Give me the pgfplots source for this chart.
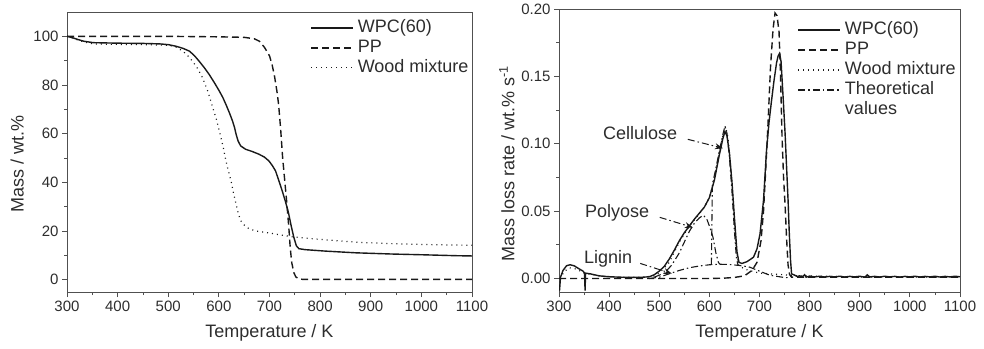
\documentclass[border=0pt]{standalone}
\usepackage{fontspec}
\setmainfont{Liberation Sans}
\usepackage{pgfplots}
\pgfplotsset{compat=1.18}
\usetikzlibrary{arrows.meta}
\definecolor{txt}{RGB}{45,45,45}
\definecolor{axc}{RGB}{80,80,80}
\definecolor{lc}{RGB}{25,25,25}
\tikzset{
  solidl/.style={draw=lc, line width=1.4pt},
  dashl/.style={draw=lc, line width=1.4pt, dash pattern=on 7pt off 4pt},
  dotl/.style={draw=lc, line width=1.2pt, dash pattern=on 1pt off 4pt},
  ddl/.style={draw=lc, line width=1.1pt, dash pattern=on 7pt off 3pt on 1.5pt off 3pt},
}
\pgfplotsset{
  mystyle/.style={
    scale only axis,
    axis line style={draw=axc, line width=0.9pt},
    every tick/.style={draw=axc, line width=0.8pt},
    major tick length=5pt, minor tick length=3pt,
    tick align=outside, xtick pos=bottom, ytick pos=left,
    ticklabel style={font=\fontsize{15}{17}\selectfont, text=txt},
    label style={font=\fontsize{18}{20}\selectfont, text=txt},
    /pgf/number format/assume math mode=true,
    /pgf/number format/1000 sep={},
    xmin=300, xmax=1100, xtick={300,400,...,1100}, minor x tick num=1,
    xlabel={Temperature / K},
    xlabel style={at={(axis description cs:0.5,0)}, anchor=center, yshift=-41pt},
    legend style={draw=none, fill=none, font=\fontsize{18}{20}\selectfont, text=txt,
      nodes={text height=13pt, text depth=4pt, inner sep=1pt},
      row sep=1pt, anchor=north west,
      /tikz/every odd column/.append style={column sep=3pt}},
    legend image code/.code={\draw[#1] (0pt,0pt) -- (42pt,0pt);},
    legend cell align=left,
  },
}
\begin{document}
\begin{tikzpicture}[x=1pt,y=1pt]
\useasboundingbox (0,0) rectangle (984,348);
% ---------------- left panel
\begin{axis}[mystyle, at={(67pt,56pt)}, anchor=south west,
  width=405pt, height=280pt,
  ymin=-5, ymax=110, ytick={0,20,...,100}, minor y tick num=1,
  ylabel={Mass / wt.\%},
  ylabel style={at={(axis description cs:-0.123,0.457)}, anchor=center},
  legend style={at={(0.593,0.985)}},
]
\addplot[solidl] coordinates {(300,100) (310,99.5) (320,98.8) (333,98) (352,97.4) (400,97.2) (450,97.1) (483,96.9) (500,96.6) (516,95.9) (530,95) (542,93.9) (552,92) (561,89.8) (571,87.2) (581,84.3) (591,81) (601,77.5) (608,74.8) (614,72) (621,68.5) (627,65.2) (631,62.5) (634,59.8) (638,57) (643,55) (653,53.6) (666,52.7) (679,51.6) (690,50.4) (699,48.8) (706,46.8) (712,44.7) (718,41) (725,36.6) (731,32.5) (735,29.5) (738,27) (743,22) (748,17.5) (753,14) (758,12.8) (770,12.4) (810,11.8) (870,11.1) (941,10.6) (1000,10.3) (1071,9.9) (1100,9.8)};
\addlegendentry{WPC(60)}
\addplot[dashl] coordinates {(300,100) (400,100) (500,100) (600,99.8) (650,99.6) (670,99) (680,98) (690,95.5) (700,92) (705,88.5) (710,83.5) (715,77) (718,72) (722,62) (726,50) (730,41) (734,32) (738,22) (741,13) (744,7) (748,3) (752,1.2) (758,0.4) (765,0.2) (900,0.2) (1100,0.2)};
\addlegendentry{PP}
\addplot[dotl] coordinates {(300,100) (315,99) (333,97.7) (352,96.9) (400,96.7) (450,96.6) (503,96.3) (515,95.6) (529,93.9) (538,92.2) (548,89.8) (558,86.8) (568,82.9) (578,77.5) (588,70.7) (595,66) (601,61.1) (608,55) (614,48.8) (619,44.5) (624,40.7) (629,35.5) (634,31.1) (638,27.5) (643,24.3) (650,22.5) (660,20.9) (675,20) (692,19.5) (720,18.5) (744,17.7) (800,16.6) (875,15.4) (950,14.8) (1030,14.4) (1100,14.2)};
\addlegendentry{Wood mixture}
\end{axis}
% ---------------- right panel
\begin{axis}[mystyle, at={(559pt,56pt)}, anchor=south west,
  width=401pt, height=283pt,
  ymin=-0.01, ymax=0.2, ytick={0,0.05,...,0.2}, minor y tick num=1,
  yticklabel style={/pgf/number format/.cd, fixed, fixed zerofill, precision=2},
  scaled y ticks=false,
  ylabel={Mass loss rate / wt.\% s\textsuperscript{-1}},
  ylabel style={at={(axis description cs:-0.13,0.452)}, anchor=center},
  legend style={at={(0.587,0.967)}},
  clip=true,
]
\addplot[solidl] coordinates {(301,-0.009) (303,0.001) (308,0.006) (315,0.0095) (322,0.0102) (330,0.0095) (340,0.0072) (348,0.0055) (351,0.004) (352,-0.009) (353,0.004) (362,0.0035) (380,0.002) (400,0.0013) (430,0.0009) (460,0.0008) (480,0.0013) (490,0.0028) (500,0.0055) (510,0.009) (520,0.0145) (530,0.021) (540,0.028) (550,0.034) (560,0.039) (570,0.044) (580,0.0485) (590,0.053) (600,0.06) (610,0.073) (620,0.092) (627,0.104) (631,0.109) (635,0.106) (640,0.093) (645,0.072) (650,0.045) (655,0.02) (659,0.012) (665,0.0112) (675,0.0125) (688,0.0158) (695,0.022) (701,0.033) (708,0.058) (714,0.095) (719,0.116) (724,0.132) (729,0.147) (734,0.16) (737,0.165) (740,0.167) (743,0.161) (747.5,0.132) (751,0.108) (754,0.083) (757,0.058) (759.5,0.033) (762,0.013) (764,0.0035) (770,0.0025) (775,0.0015) (780,0.002) (785,0.0012) (790,0.0028) (793,0.001) (800,0.0018) (810,0.0012) (820,0.0017) (830,0.0011) (840,0.0016) (850,0.0012) (860,0.0017) (870,0.0011) (880,0.0016) (890,0.0012) (900,0.0017) (910,0.001) (915,0.0027) (920,0.0012) (930,0.0016) (940,0.0011) (950,0.0017) (960,0.0012) (970,0.0016) (980,0.001) (990,0.0016) (1000,0.0012) (1010,0.0017) (1020,0.0011) (1030,0.0016) (1040,0.0012) (1050,0.0017) (1060,0.0011) (1070,0.0016) (1080,0.0012) (1090,0.0017) (1100,0.0013)};
\addlegendentry{WPC(60)}
\addplot[dashl] coordinates {(300,0) (400,0) (500,0) (600,0) (630,0.0003) (650,0.0008) (670,0.002) (685,0.006) (695,0.012) (703,0.028) (708,0.05) (713,0.085) (717,0.115) (722,0.157) (727,0.185) (731,0.197) (735,0.195) (739,0.183) (742,0.15) (745,0.105) (748,0.075) (751,0.055) (754,0.03) (757,0.01) (760,0.003) (764,0.001) (800,0.001) (1100,0.001)};
\addlegendentry{PP}
\addplot[dotl] coordinates {(302,0) (310,0.005) (320,0.008) (335,0.007) (350,0.004) (380,0.002) (420,0.001) (470,0.001) (490,0.002) (500,0.004) (520,0.012) (540,0.027) (560,0.039) (580,0.048) (590,0.053) (600,0.06) (610,0.074) (620,0.094) (628,0.108) (632,0.113) (637,0.105) (642,0.085) (648,0.055) (653,0.025) (658,0.01) (670,0.007) (700,0.004) (740,0.003) (780,0.002) (900,0.0012) (1100,0.001)};
\addlegendentry{Wood mixture}
\addplot[ddl] coordinates {(480,0) (500,0.001) (520,0.0035) (540,0.006) (560,0.008) (580,0.0093) (600,0.0102) (620,0.0106) (640,0.0104) (660,0.0097) (680,0.0085) (700,0.0055) (720,0.0025) (745,0.001) (760,0.0005)};
\addlegendentry{Theoretical}
\addlegendimage{empty legend}
\addlegendentry{values}
\addplot[ddl, forget plot] coordinates {(490,0.001) (510,0.004) (525,0.01) (540,0.019) (550,0.027) (560,0.035) (570,0.041) (580,0.045) (588,0.047) (595,0.044) (600,0.039) (607,0.031) (613,0.019) (618,0.012) (621,0.0105)};
\addplot[ddl, forget plot] coordinates {(604,0.0103) (605,0.04) (606,0.07) (612,0.08) (620,0.095) (627,0.107) (631,0.113) (635,0.108) (640,0.09) (645,0.065) (650,0.035) (654,0.015) (657,0.01)};
% annotations
\node[font=\fontsize{18}{20}\selectfont, text=txt] at (axis cs:462,0.108) {Cellulose};
\node[font=\fontsize{18}{20}\selectfont, text=txt] at (axis cs:416,0.049) {Polyose};
\node[font=\fontsize{18}{20}\selectfont, text=txt] at (axis cs:398,0.0149) {Lignin};
\draw[ddl, line width=1pt, -{Stealth[length=8pt,width=6pt]}] (axis cs:557,0.1033) -- (axis cs:627,0.0967);
\draw[ddl, line width=1pt, -{Stealth[length=8pt,width=6pt]}] (axis cs:501,0.0454) -- (axis cs:567,0.0379);
\draw[ddl, line width=1pt, -{Stealth[length=8pt,width=6pt]}] (axis cs:462,0.0112) -- (axis cs:525,0.0037);
\end{axis}
\end{tikzpicture}
\end{document}
